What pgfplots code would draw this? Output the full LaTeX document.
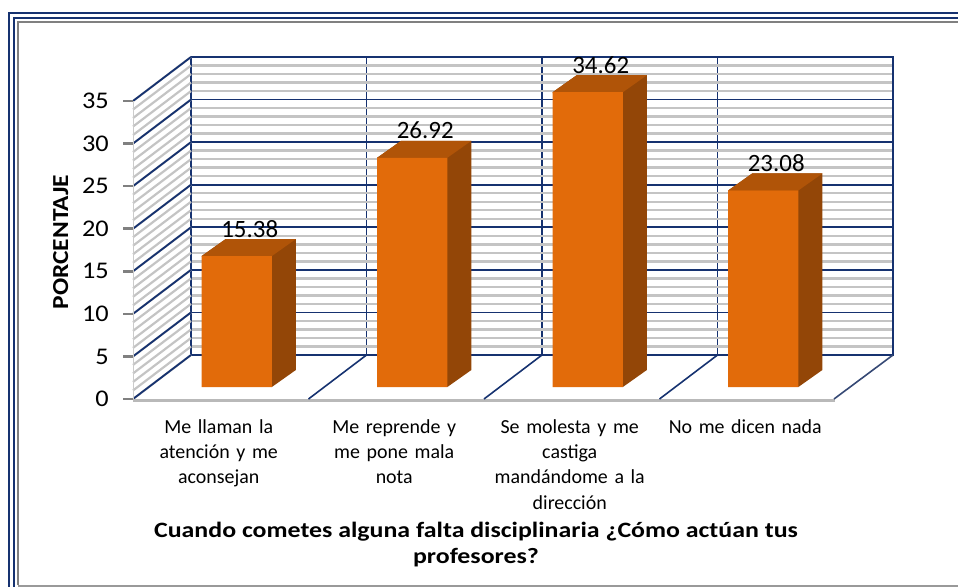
\documentclass[border=0pt]{standalone}
\usepackage{pgfplots}
\pgfplotsset{compat=1.18}
\usepackage{fontspec}
\setmainfont{Carlito}
\newfontfamily\titlefont{Carlito}[FakeStretch=1.18]
\newfontfamily\ylabfont{Carlito}[FakeStretch=1.11]
\newfontfamily\tickfont{Carlito}[FakeStretch=1.1]
\definecolor{navy}{RGB}{22,50,112}
\definecolor{frontc}{RGB}{226,107,10}
\definecolor{topc}{RGB}{176,84,8}
\definecolor{sidec}{RGB}{147,70,7}
\definecolor{gridgray}{RGB}{196,196,196}
\begin{document}
\begin{tikzpicture}
\useasboundingbox (0,0) rectangle (958bp,-587bp);
% outer frame
\draw[navy, line width=2.4bp] (8.8bp,-587bp) -- (8.8bp,-12.7bp) -- (958bp,-12.7bp);
\draw[navy, line width=2bp] (14.3bp,-587bp) -- (14.3bp,-17.5bp) -- (958bp,-17.5bp);
\draw[gray, line width=2.6bp] (18bp,-585bp) -- (18bp,-22bp) -- (958bp,-22bp);
\draw[gray!80, line width=2bp] (18bp,-585.5bp) -- (958bp,-585.5bp);

% ---------- back wall axis ----------
\begin{axis}[
  scale only axis, width=702bp, height=298bp,
  at={(191bp,-355bp)}, anchor=south west,
  xmin=-0.5, xmax=3.5, ymin=0, ymax=35,
  clip=false,
  axis line style={navy, line width=1.8bp},
  xtick={0.5,1.5,2.5}, xticklabels={}, xmajorgrids,
  ytick={0,5,...,35}, ymajorgrids,
  minor y tick num=4, yminorgrids,
  major grid style={navy, line width=1.8bp},
  minor grid style={gridgray, line width=2.4bp},
  tick style={draw=none},
  /pgf/number format/assume math mode=true,
  yticklabel style={anchor=east, xshift=-82bp, yshift=-44bp, inner sep=0pt,
    font=\tickfont\fontsize{24}{28}\selectfont},
]
% left side wall
\pgfplotsinvokeforeach{0,...,35}{
  \draw[gridgray, line width=2.2bp] (axis cs:-0.5,#1) -- ++(-58bp,-44bp);
}
\pgfplotsinvokeforeach{0,5,...,35}{
  \draw[navy, line width=1.8bp] (axis cs:-0.5,#1) -- ++(-58bp,-44bp);
  \draw[gray, line width=2.5bp] (axis cs:-0.5,#1) ++(-58bp,-44bp) -- ++(-10bp,0bp);
}
\draw[gray!40, line width=1bp] (axis cs:-0.5,0) ++(-58bp,-44bp) -- ++(0bp,298bp);
% floor
\draw[gray!55, line width=2.6bp] (axis cs:-0.5,0) ++(-58bp,-45.5bp) -- ++(702bp,0bp);
\draw[navy!70!gray, line width=1.6bp] (axis cs:3.5,0) -- ++(-59bp,-44bp);
\pgfplotsinvokeforeach{0.5,1.5,2.5}{
  \draw[navy, line width=1.6bp] (axis cs:#1,0) -- ++(-58bp,-44bp);
}
\end{axis}

% ---------- bars axis ----------
\begin{axis}[
  scale only axis, width=702bp, height=298bp,
  at={(149bp,-387bp)}, anchor=south west,
  xmin=-0.5, xmax=3.5, ymin=0, ymax=35,
  clip=false,
  axis line style={draw=none},
  tick style={draw=none},
  ytick=\empty,
  xtick={0,1,2,3},
  xticklabels={{Me llaman la\\atención y me\\aconsejan},
               {Me reprende y\\me pone mala\\nota},
               {Se molesta y me\\castiga\\mandándome a la\\dirección},
               {No me dicen nada}},
  xticklabel style={align=center, text width=170bp, anchor=north, inner sep=0pt,
    xshift=-18bp, yshift=-32bp, font=\fontsize{20}{25.5}\selectfont},
]
% side + top faces
\addplot[fill=sidec, draw=none] coordinates {(-0.2,15.38) (-0.063,17.38) (0.337,17.38) (0.337,2) (0.2,0)} -- cycle;
\addplot[fill=topc, draw=none] coordinates {(-0.2,15.38) (-0.063,17.38) (0.337,17.38) (0.2,15.38)} -- cycle;
\addplot[fill=sidec, draw=none] coordinates {(0.8,26.92) (0.937,28.92) (1.337,28.92) (1.337,2) (1.2,0)} -- cycle;
\addplot[fill=topc, draw=none] coordinates {(0.8,26.92) (0.937,28.92) (1.337,28.92) (1.2,26.92)} -- cycle;
\addplot[fill=sidec, draw=none] coordinates {(1.8,34.62) (1.937,36.62) (2.337,36.62) (2.337,2) (2.2,0)} -- cycle;
\addplot[fill=topc, draw=none] coordinates {(1.8,34.62) (1.937,36.62) (2.337,36.62) (2.2,34.62)} -- cycle;
\addplot[fill=sidec, draw=none] coordinates {(2.8,23.08) (2.937,25.08) (3.337,25.08) (3.337,2) (3.2,0)} -- cycle;
\addplot[fill=topc, draw=none] coordinates {(2.8,23.08) (2.937,25.08) (3.337,25.08) (3.2,23.08)} -- cycle;
% front faces
\addplot[ybar, bar width=0.4, fill=frontc, draw=none,
  nodes near coords={\pgfmathprintnumber[fixed,fixed zerofill,precision=2,assume math mode=true]{\pgfplotspointmeta}},
  every node near coord/.append style={anchor=base, xshift=13bp, yshift=19bp, inner sep=0pt,
    font=\fontsize{25}{30}\selectfont, text=black}]
  coordinates {(0,15.38) (1,26.92) (2,34.62) (3,23.08)};
\end{axis}

% titles
\node[rotate=90, anchor=base, inner sep=0pt, font=\ylabfont\bfseries\fontsize{23}{27}\selectfont] at (68bp,-242bp) {PORCENTAJE};
\node[anchor=base, inner sep=0pt, font=\titlefont\bfseries\fontsize{22}{26}\selectfont] at (476bp,-537bp) {Cuando cometes alguna falta disciplinaria ¿Cómo actúan tus};
\node[anchor=base, inner sep=0pt, font=\titlefont\bfseries\fontsize{22}{26}\selectfont] at (476bp,-563bp) {profesores?};
\end{tikzpicture}
\end{document}
